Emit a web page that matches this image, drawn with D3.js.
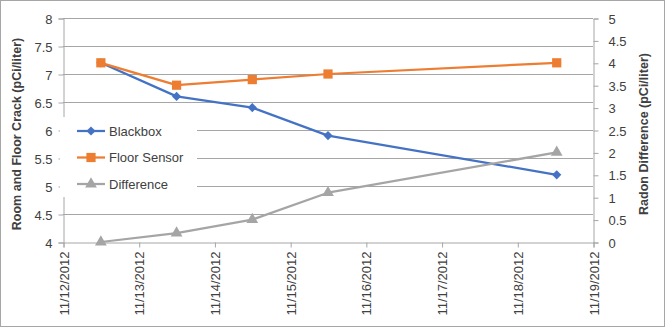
<!DOCTYPE html>
<html>
<head>
<meta charset="utf-8">
<script src="https://cdn.jsdelivr.net/npm/d3@7"></script>
<style>
  html, body { margin: 0; padding: 0; background: #fff; }
  svg { display: block; font-family: "Liberation Sans", Arial, sans-serif; }
</style>
</head>
<body>
<svg id="chart" width="665" height="327"></svg>
<script>
// Sample times (local), one reading per day around midday
const dates = [
  new Date(2012, 10, 12, 12), new Date(2012, 10, 13, 12), new Date(2012, 10, 14, 12),
  new Date(2012, 10, 15, 12), new Date(2012, 10, 18, 12, 30)
];
const blackbox = [7.2, 6.6, 6.4, 5.9, 5.2];
const floorSensor = [7.2, 6.8, 6.9, 7.0, 7.2];
const difference = [0, 0.2, 0.5, 1.1, 2.0];
const leftTicks = [4, 4.5, 5, 5.5, 6, 6.5, 7, 7.5, 8];
const rightTicks = [0, 0.5, 1, 1.5, 2, 2.5, 3, 3.5, 4, 4.5, 5];
const seriesNames = ["Blackbox", "Floor Sensor", "Difference"];

const svg = d3.select("#chart");
const W = 665, H = 327;
const plot = { left: 63, right: 593, top: 18, bottom: 242 };
const gridColor = "#a6a6a6";
const textColor = "#404040";

// outer chart frame
svg.append("rect").attr("x", 0.5).attr("y", 0.5).attr("width", W - 1).attr("height", H - 1)
  .attr("fill", "#fff").attr("stroke", "#a6a6a6");

const x = d3.scaleTime()
  .domain([new Date(2012, 10, 12), new Date(2012, 10, 19)])
  .range([plot.left, plot.right]);
const yL = d3.scaleLinear().domain([4, 8]).range([plot.bottom, plot.top]);
const yR = d3.scaleLinear().domain([0, 5]).range([plot.bottom, plot.top]);

// horizontal gridlines
svg.append("g").selectAll("line").data(leftTicks.slice(1)).join("line")
  .attr("x1", plot.left).attr("x2", plot.right)
  .attr("y1", d => Math.round(yL(d)) + 0.5).attr("y2", d => Math.round(yL(d)) + 0.5)
  .attr("stroke", gridColor).attr("stroke-width", 1);

// left axis
const axL = svg.append("g").attr("transform", `translate(${plot.left + 0.5},0.5)`)
  .call(d3.axisLeft(yL).tickValues(leftTicks).tickSize(5).tickPadding(6).tickFormat(d3.format("")));
// right axis
const axR = svg.append("g").attr("transform", `translate(${plot.right + 0.5},0.5)`)
  .call(d3.axisRight(yR).tickValues(rightTicks).tickSize(5).tickPadding(10).tickFormat(d3.format("")));
// bottom axis
const axB = svg.append("g").attr("transform", `translate(0.5,${plot.bottom + 0.5})`)
  .call(d3.axisBottom(x).ticks(d3.timeDay.every(1)).tickSize(5).tickFormat(d3.timeFormat("%-m/%-d/%Y")));

[axL, axR, axB].forEach(g => {
  g.select(".domain").attr("stroke", gridColor);
  g.selectAll(".tick line").attr("stroke", gridColor);
  g.selectAll(".tick text").attr("fill", textColor).style("font-size", "13px")
    .style("font-family", "'Liberation Sans', Arial, sans-serif");
});
axL.selectAll(".tick text").attr("dy", "0.35em");
axR.selectAll(".tick text").attr("dy", "0.35em");
axB.selectAll(".tick text")
  .attr("transform", "rotate(-90)")
  .attr("text-anchor", "end")
  .attr("x", -9).attr("y", 0).attr("dy", "0.35em");

// axis titles
svg.append("text")
  .attr("transform", `translate(21,${(plot.top + plot.bottom) / 2 + 4}) rotate(-90)`)
  .attr("text-anchor", "middle").attr("font-size", 12.5).attr("font-weight", "bold")
  .attr("fill", textColor).text("Room and Floor Crack (pCi/liter)");
svg.append("text")
  .attr("transform", `translate(648,${(plot.top + plot.bottom) / 2 + 4}) rotate(-90)`)
  .attr("text-anchor", "middle").attr("font-size", 12.5).attr("font-weight", "bold")
  .attr("fill", textColor).text("Radon Difference (pCi/liter)");

const colors = ["#4472C4", "#ED7D31", "#A5A5A5"];
// rotate: degrees applied to the marker (a square turned 45° gives the diamond)
const series = [
  { name: seriesNames[0], values: blackbox, y: yL, color: colors[0], symbol: d3.symbolSquare, size: 42, rotate: 45 },
  { name: seriesNames[1], values: floorSensor, y: yL, color: colors[1], symbol: d3.symbolSquare, size: 85, rotate: 0 },
  { name: seriesNames[2], values: difference, y: yR, color: colors[2], symbol: d3.symbolTriangle, size: 60, rotate: 0 }
];

// legend box (drawn before series so lines pass over it)
const legend = svg.append("g");
legend.append("rect").attr("x", 60).attr("y", 117).attr("width", 137).attr("height", 80).attr("fill", "#fff");

const lineGen = (s) => d3.line().x((d, i) => x(dates[i])).y(d => s.y(d));

series.forEach(s => {
  svg.append("path").datum(s.values)
    .attr("d", lineGen(s))
    .attr("fill", "none").attr("stroke", s.color).attr("stroke-width", 2.25)
    .attr("stroke-linejoin", "round");
  svg.append("g").selectAll("path").data(s.values).join("path")
    .attr("transform", (d, i) => `translate(${x(dates[i])},${s.y(d)}) rotate(${s.rotate})`)
    .attr("d", d3.symbol().type(s.symbol).size(s.size))
    .attr("fill", s.color);
});

// legend entries
series.forEach((s, i) => {
  const ly = 131 + i * 26.5;
  legend.append("line").attr("x1", 77).attr("x2", 105).attr("y1", ly).attr("y2", ly)
    .attr("stroke", s.color).attr("stroke-width", 2.25);
  legend.append("path").attr("transform", `translate(91,${ly}) rotate(${s.rotate})`)
    .attr("d", d3.symbol().type(s.symbol).size(s.size)).attr("fill", s.color);
  legend.append("text").attr("x", 109).attr("y", ly).attr("dy", "0.35em")
    .attr("font-size", 13).attr("fill", textColor).text(s.name);
});
</script>
</body>
</html>
